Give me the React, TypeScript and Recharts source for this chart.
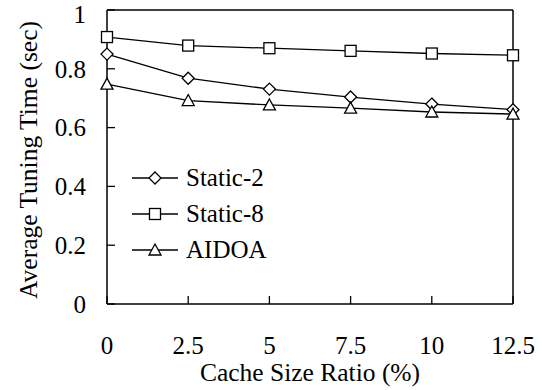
import React from 'react';
import { LineChart, Line, XAxis, YAxis, ReferenceLine, Legend } from 'recharts';

const cacheRatios = [0, 2.5, 5, 7.5, 10, 12.5];
const static2 = [0.85, 0.768, 0.731, 0.704, 0.68, 0.661];
const static8 = [0.908, 0.879, 0.87, 0.861, 0.852, 0.846];
const aidoa = [0.748, 0.692, 0.677, 0.666, 0.653, 0.646];
const seriesNames = ['Static-2', 'Static-8', 'AIDOA'];
const xTicks = [0, 2.5, 5, 7.5, 10, 12.5];
const yTicks = [0, 0.2, 0.4, 0.6, 0.8, 1];

const FONT = 'Liberation Serif';

const data = cacheRatios.map((r, i) => ({
  ratio: r,
  'Static-2': static2[i],
  'Static-8': static8[i],
  AIDOA: aidoa[i],
}));

type Shape = 'diamond' | 'square' | 'triangle';

const SHAPES: Record<string, Shape> = {
  'Static-2': 'diamond',
  'Static-8': 'square',
  AIDOA: 'triangle',
};

function Marker({ cx, cy, shape }: { cx: number; cy: number; shape: Shape }) {
  const common = { fill: '#fff', stroke: '#000', strokeWidth: 1.3 };
  if (shape === 'square') {
    return <rect x={cx - 5.5} y={cy - 5.5} width={11} height={11} {...common} />;
  }
  if (shape === 'diamond') {
    return (
      <polygon
        points={`${cx},${cy - 6} ${cx + 6},${cy} ${cx},${cy + 6} ${cx - 6},${cy}`}
        {...common}
      />
    );
  }
  return (
    <polygon
      points={`${cx},${cy - 6} ${cx + 6},${cy + 5} ${cx - 6},${cy + 5}`}
      {...common}
    />
  );
}

const makeDot = (shape: Shape) => (props: any) => {
  const { cx, cy, index } = props;
  if (cx == null || cy == null) return <g key={index} />;
  return <Marker key={index} cx={cx} cy={cy} shape={shape} />;
};

// legend keeps the series order, not alphabetical
function renderLegend(props: any) {
  const payload = [...(props.payload || [])].sort(
    (a: any, b: any) => seriesNames.indexOf(a.value) - seriesNames.indexOf(b.value)
  );
  return (
    <div style={{ fontSize: 25, color: '#000', fontFamily: FONT }}>
      {payload.map((entry: any) => (
        <div key={entry.value} style={{ display: 'flex', alignItems: 'center', height: 36 }}>
          <svg width={50} height={36} style={{ display: 'block' }}>
            <line x1={2} y1={18} x2={48} y2={18} stroke="#000" strokeWidth={1.3} />
            <Marker cx={25} cy={18} shape={SHAPES[entry.value]} />
          </svg>
          <span style={{ marginLeft: 6, lineHeight: '36px' }}>{entry.value}</span>
        </div>
      ))}
    </div>
  );
}

export default function App() {
  const tickStyle = { fill: '#000', fontSize: 25, fontFamily: FONT };
  return (
    <div style={{ position: 'absolute', left: 0, top: 0, background: '#fff' }}>
      <LineChart
        width={542}
        height={390}
        data={data}
        margin={{ top: 10, right: 29, left: 0, bottom: 0 }}
      >
        <XAxis
          dataKey="ratio"
          type="number"
          domain={[0, 12.5]}
          ticks={xTicks}
          height={86}
          tick={tickStyle}
          tickSize={-8}
          tickMargin={40}
          axisLine={{ stroke: '#000', strokeWidth: 1.5 }}
          tickLine={{ stroke: '#000', strokeWidth: 1.3 }}
          label={{
            value: 'Cache Size Ratio (%)',
            position: 'insideBottom',
            offset: 9,
            fill: '#000',
            fontSize: 25.5,
            fontFamily: FONT,
          }}
        />
        <YAxis
          type="number"
          domain={[0, 1]}
          ticks={yTicks}
          width={107}
          tick={tickStyle}
          tickSize={-8}
          tickMargin={29}
          axisLine={{ stroke: '#000', strokeWidth: 1.5 }}
          tickLine={{ stroke: '#000', strokeWidth: 1.3 }}
          label={{
            value: 'Average Tuning Time (sec)',
            angle: -90,
            position: 'center',
            dx: -26,
            dy: 3,
            fill: '#000',
            fontSize: 25.5,
            fontFamily: FONT,
          }}
        />
        <ReferenceLine y={1} stroke="#000" strokeWidth={1.5} />
        <ReferenceLine x={12.5} stroke="#000" strokeWidth={1.5} />
        <Legend
          layout="vertical"
          align="center"
          verticalAlign="middle"
          content={renderLegend}
          wrapperStyle={{ left: 130, top: 160, width: 'auto' }}
        />
        {seriesNames.map((name) => (
          <Line
            key={name}
            dataKey={name}
            stroke="#000"
            strokeWidth={1.3}
            dot={makeDot(SHAPES[name])}
            isAnimationActive={false}
          />
        ))}
      </LineChart>
    </div>
  );
}
